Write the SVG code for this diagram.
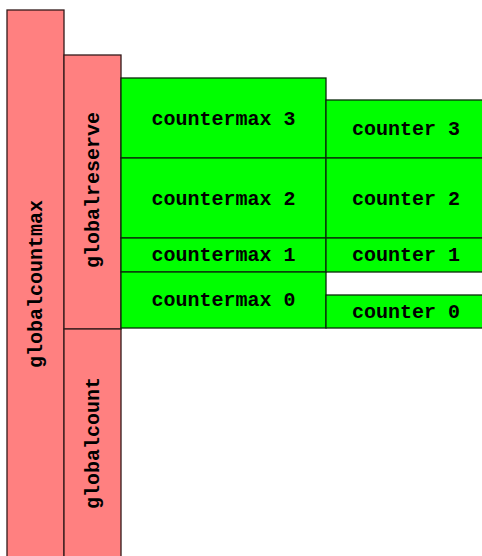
<svg xmlns="http://www.w3.org/2000/svg" width="482" height="556" viewBox="0 0 482 556">
<style>
.g{fill:#ff8080;stroke:#331a1a;stroke-width:1.3}
.c{fill:#00ff00;stroke:#0a2a0a;stroke-width:1.3}
text{font-family:"Liberation Mono","Courier New",monospace;font-weight:bold;font-size:20px;fill:#000;text-anchor:middle}
</style>
<rect width="482" height="556" fill="#fff"/>
<g id="globalcountmax"><rect class="g" x="7" y="10" width="57" height="550"/><text transform="translate(35.5,284) rotate(-90)" y="6">globalcountmax</text></g>
<g id="globalreserve"><rect class="g" x="64" y="55" width="57" height="274"/><text transform="translate(92.5,190) rotate(-90)" y="6">globalreserve</text></g>
<g id="globalcount"><rect class="g" x="64" y="329" width="57" height="231"/><text transform="translate(92.5,443) rotate(-90)" y="6">globalcount</text></g>
<g id="countermax3"><rect class="c" x="121" y="78" width="205" height="80"/><text x="223.5" y="124.5">countermax 3</text></g>
<g id="countermax2"><rect class="c" x="121" y="158" width="205" height="80"/><text x="223.5" y="204.5">countermax 2</text></g>
<g id="countermax1"><rect class="c" x="121" y="238" width="205" height="34"/><text x="223.5" y="261">countermax 1</text></g>
<g id="countermax0"><rect class="c" x="121" y="272" width="205" height="56"/><text x="223.5" y="306">countermax 0</text></g>
<g id="counter3"><rect class="c" x="326" y="100" width="160" height="58"/><text x="406" y="135">counter 3</text></g>
<g id="counter2"><rect class="c" x="326" y="158" width="160" height="80"/><text x="406" y="204.5">counter 2</text></g>
<g id="counter1"><rect class="c" x="326" y="238" width="160" height="34"/><text x="406" y="261">counter 1</text></g>
<g id="counter0"><rect class="c" x="326" y="295" width="160" height="33"/><text x="406" y="317.5">counter 0</text></g>
<g id="connectors"></g>
</svg>
